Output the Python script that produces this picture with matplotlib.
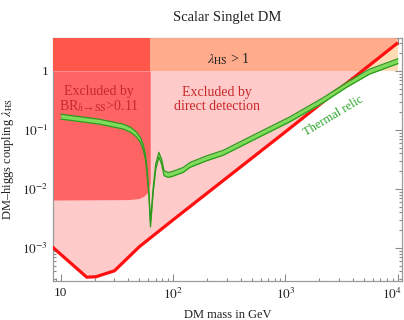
import numpy as np
import matplotlib
matplotlib.use("Agg")
import matplotlib.pyplot as plt
import matplotlib.transforms as mtransforms
from matplotlib.ticker import FixedLocator, FixedFormatter, LogLocator, NullFormatter

plt.rcParams['font.family'] = ['Liberation Serif', 'DejaVu Serif']
plt.rcParams['mathtext.fontset'] = 'stix'

# direct detection bound (red line)
red_x = [8.6, 17, 20.5, 30, 50, 100, 1000, 9800]
red_y = [1.0e-3, 3.2e-4, 3.25e-4, 4.1e-4, 1.05e-3, 3.0e-3, 0.093, 2.9]

# invisible higgs width bound, BR(h->SS) > 0.11
br_x = [8.6, 40, 50, 55, 59, 61.5, 62.5]
br_y = [6.5e-3, 6.6e-3, 6.9e-3, 7.6e-3, 8.6e-3, 0.011, 0.013]

# thermal relic curve
relic_x = [10, 22, 36, 42, 47, 51, 54, 56.5, 58, 60.8, 62.8, 66.4, 70, 74.6, 78.9,
           83, 90, 97, 123, 141, 198, 279, 553, 1100, 2170, 3500, 5600, 10000]
relic_y = [0.168, 0.138, 0.114, 0.1, 0.084, 0.068, 0.052, 0.036, 0.024, 0.0085,
           0.0025, 0.0096, 0.024, 0.038, 0.029, 0.0185, 0.0173, 0.0178, 0.021,
           0.0255, 0.033, 0.041, 0.079, 0.152, 0.32, 0.58, 0.97, 1.46]

x_ticks = [10, 100, 1000, 10000]
x_labels = ['10', '$10^{2}$', '$10^{3}$', '$10^{4}$']
y_ticks = [1e-3, 1e-2, 1e-1, 1]
y_labels = ['$10^{-3}$', '$10^{-2}$', '$10^{-1}$', '1']

xmin, xmax = 8.5, 1.1e4
ymin, ymax = 2.76e-4, 3.6
x_end = 1e4
m_half = 62.5

fig = plt.figure(figsize=(4.04, 3.2), dpi=100)
ax = fig.add_axes([0.131, 0.122, 0.865, 0.759])
ax.set_xscale('log')
ax.set_yscale('log')

# lambda > 1 band (not excluded by DD)
ax.fill_between([xmin, x_end], [1, 1], [ymax, ymax], color='#ffdcb6', lw=0, zorder=1)
# excluded by direct detection
pink = ax.fill_between(red_x, red_y, ymax, color='#ffcaca', lw=0, zorder=2)
salmon = ax.fill_between([xmin, x_end], [1, 1], [ymax, ymax], color='#ffab8c', lw=0, zorder=3)
salmon.set_clip_path(pink.get_paths()[0], ax.transData)
# BR region
ax.fill_between(br_x, br_y, 1, color='#ff6464', lw=0, zorder=4)
ax.fill_between([xmin, m_half], [1, 1], [ymax, ymax], color='#ff5749', lw=0, zorder=4)

ax.plot(red_x, red_y, color='#ff1010', lw=2.3, zorder=6, solid_joinstyle='miter')

band = 1.1
lo = np.array(relic_y) / band
hi = np.array(relic_y) * band
ax.fill_between(relic_x, lo, hi, color='#7ddc5a', lw=0, zorder=7)
ax.plot(relic_x, lo, color='#2d9a1e', lw=0.9, zorder=8)
ax.plot(relic_x, hi, color='#2d9a1e', lw=0.9, zorder=8)

txt_red = '#c8282a'
ax.text(22, 0.33, 'Excluded by\nBR$_{h\\rightarrow \\mathrm{SS}}$>0.11', color=txt_red,
        fontsize=10, ha='center', va='center', linespacing=1.05, zorder=9)
ax.text(245, 0.33, 'Excluded by\ndirect detection', color=txt_red,
        fontsize=10, ha='center', va='center', linespacing=1.05, zorder=9)
ax.text(307, 1.6, '$\\lambda_{\\mathrm{HS}}$ > 1', color='#222222',
        fontsize=10, ha='center', va='center', zorder=9)
ax.text(2700, 0.17, 'Thermal relic', color='#2aa52a', fontsize=9,
        rotation=31, ha='center', va='center', zorder=9)

ax.set_xlim(xmin, xmax)
ax.set_ylim(ymin, ymax)

ax.xaxis.set_major_locator(FixedLocator(x_ticks))
ax.xaxis.set_major_formatter(FixedFormatter(x_labels))
ax.yaxis.set_major_locator(FixedLocator(y_ticks))
ax.yaxis.set_major_formatter(FixedFormatter(y_labels))
for a in (ax.xaxis, ax.yaxis):
    a.set_minor_locator(LogLocator(base=10, subs=np.arange(2, 10)))
    a.set_minor_formatter(NullFormatter())

ax.tick_params(which='both', direction='in', top=True, right=True,
               color='#8a8a8a', labelsize=9.5, labelcolor='#222222', width=0.8)
ax.tick_params(which='major', length=5)
ax.tick_params(which='minor', length=2.5)
ax.tick_params(axis='x', pad=4)
for s in ax.spines.values():
    s.set_color('#9a9a9a')
    s.set_linewidth(0.9)

# keep the last x label inside the figure
shift = mtransforms.ScaledTranslation(-4 / 72, 0, fig.dpi_scale_trans)
last = ax.xaxis.get_majorticklabels()[-1]
last.set_transform(last.get_transform() + shift)

ax.set_title('Scalar Singlet DM', fontsize=10.5, color='#222222', pad=12)
ax.set_xlabel('DM mass in GeV', fontsize=9, color='#222222', labelpad=5)
ax.set_ylabel('DM\u2013higgs coupling $\\lambda_{\\mathrm{HS}}$', fontsize=9,
              color='#222222', labelpad=4)

fig.savefig('out.png', dpi=100)
